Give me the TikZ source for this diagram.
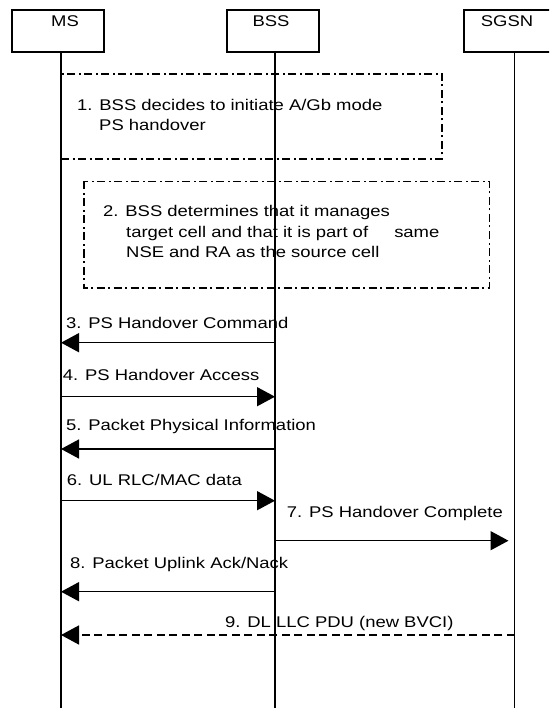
\documentclass[tikz,border=0pt]{standalone}
\usepackage{fontspec}
\newfontfamily\diafont[FakeStretch=1.19]{Liberation Sans}
\usetikzlibrary{arrows.meta}

\begin{document}
\begin{tikzpicture}[x=1pt,y=-1pt]\tikzstyle{every node}=[font=\diafont\fontsize{15.5pt}{20.5pt}\selectfont, inner sep=0pt]
   \tikzstyle{entity}=[draw, line width=1.8pt, minimum width=92pt, minimum height=42pt]
   \tikzstyle{stepbox}=[line width=1.3pt, dash pattern=on 8pt off 3.5pt on 2pt off 3.5pt]
   \tikzstyle{msg}=[line width=1.5pt, -{Triangle[length=18pt, width=19pt]}]

   \useasboundingbox (0,0) rectangle (549,708);
   \clip (0,0) rectangle (549,708);

   % Entities
   \node[entity] (ms) at (58,31) {};
   \node[entity] (bss) at (273,31) {};
   \node[entity] (sgsn) at (510,31) {};
   \node[anchor=base] (ms label) at (65,27) {MS};
   \node[anchor=base] (bss label) at (271,27) {BSS};
   \node[anchor=base] (sgsn label) at (507,27) {SGSN};

   % Lifelines
    \foreach \e/\x in {ms/61, bss/275, sgsn/514.5}{
      \coordinate (\e top) at (\x,52);
      \coordinate (\e end) at (\x,708);
      \draw[line width=1.5pt] (\e top) -- (\e end);
    }

   % Steps
    \draw[stepbox] (61,74) rectangle (442,159);
    \node[anchor=north west, align=left] (step1) at (77,98.7) {1. BSS decides to initiate A/Gb mode\\\hspace*{22pt}PS handover};

    \draw[stepbox] (84,181.5) rectangle (489.5,288);
    \node[anchor=north west, align=left] (step2) at (103,205.3) {2. BSS determines that it manages\\\hspace*{23pt}target cell and that it is part of\hspace{21pt} same\\\hspace*{23pt}NSE and RA as the source cell};

   % Messages
    \foreach \n/\y in {3/342.7, 4/396.7, 5/449, 6/500.7, 7/540.7, 8/591.7, 9/635}{
      \coordinate (ms\n) at (61,\y);
      \coordinate (bss\n) at (275,\y);
      \coordinate (sgsn\n) at (514.5,\y);
    }

    \draw[msg] (bss3) -- (ms3);
    \draw[msg] (ms4) -- (bss4);
    \draw[msg] (bss5) -- (ms5);
    \draw[msg] (ms6) -- (bss6);
    \draw[msg, shorten >=6pt] (bss7) -- (sgsn7);
    \draw[msg] (bss8) -- (ms8);
    \draw[msg, dash pattern=on 8pt off 4.5pt] (sgsn9) -- (ms9);

   % Message texts
    \node[anchor=base west] (msg3) at (66,328) {3. PS Handover Command};
    \node[anchor=base west] (msg4) at (62.7,380) {4. PS Handover Access};
    \node[anchor=base west] (msg5) at (66,430) {5. Packet Physical Information};
    \node[anchor=base west] (msg6) at (66.7,485) {6. UL RLC/MAC data};
    \node[anchor=base west] (msg7) at (286.7,517) {7. PS Handover Complete};
    \node[anchor=base west] (msg8) at (70,568) {8. Packet Uplink Ack/Nack};
    \node[anchor=base west] (msg9) at (225,627.7) {9. DL LLC PDU (new BVCI)};

\end{tikzpicture}
\end{document}
